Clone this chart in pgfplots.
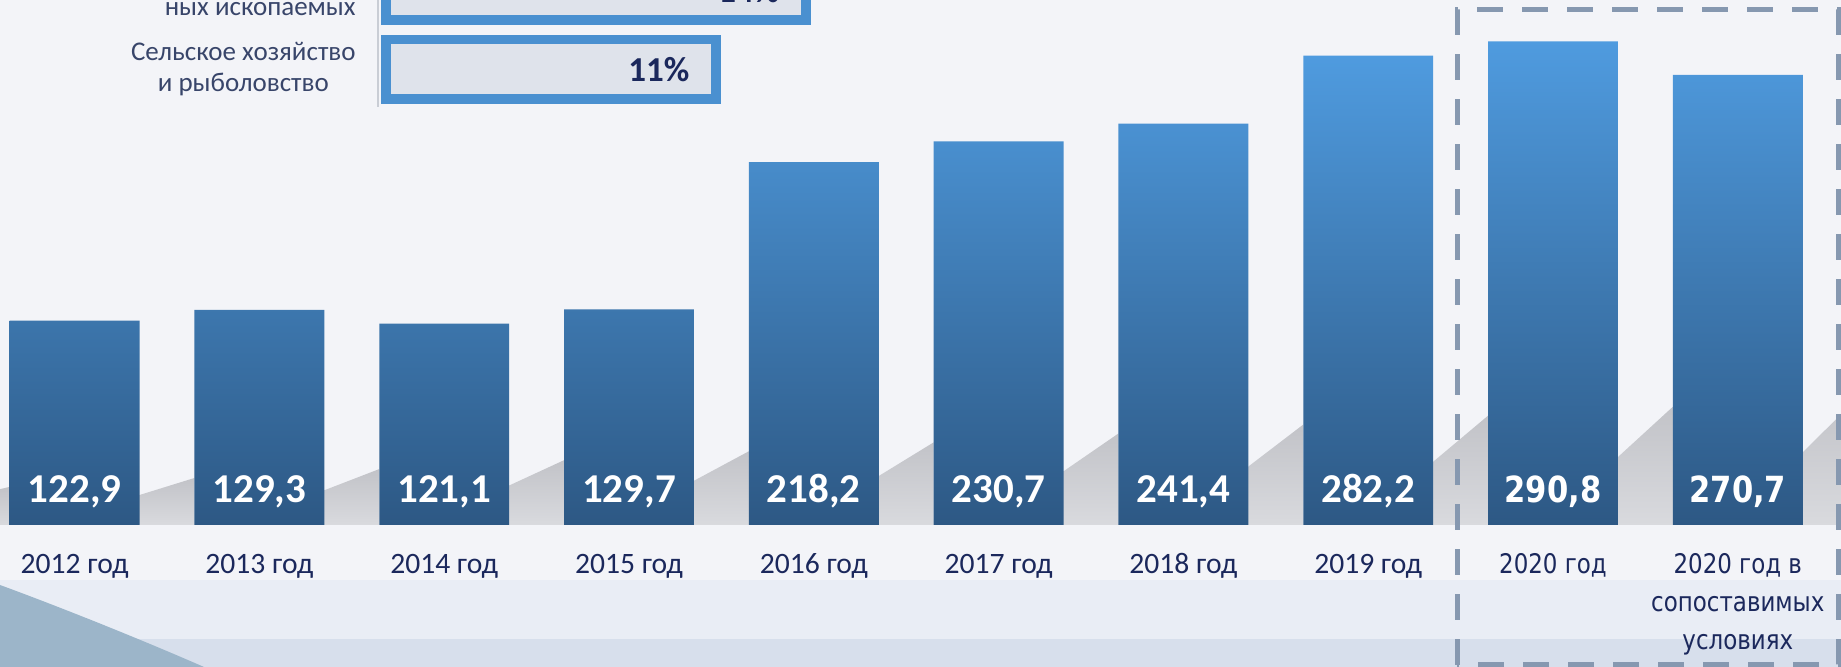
\documentclass[border=0pt]{standalone}
\usepackage{fontspec}
\setmainfont{Carlito}
\newfontfamily\dejavu{DejaVu Sans}
\usepackage{graphicx}
\usepackage{pgfplots}
\pgfplotsset{compat=1.18}
\definecolor{bgcol}{HTML}{F3F4F8}
\definecolor{band1}{HTML}{E9EDF5}
\definecolor{band2}{HTML}{D7DFEC}
\definecolor{swoosh}{HTML}{9CB5C9}
\definecolor{shadowgray}{HTML}{C2C3C8}
\definecolor{shadowlight}{HTML}{D9DADE}
\definecolor{bartop}{HTML}{4F9BDF}
\definecolor{barbot}{HTML}{2D5884}
\definecolor{navy}{HTML}{1B285C}
\definecolor{dashcol}{HTML}{8698B0}
\definecolor{insetblue}{HTML}{4A90D0}
\definecolor{insetfill}{HTML}{DFE3EB}
\definecolor{labcol}{HTML}{38456A}
\definecolor{axisgray}{HTML}{C9CDD5}

% labels of the last two categories are set in a wider sans
\newcommand{\vlab}[1]{{\dejavu\fontsize{13.5}{19}\selectfont\scalebox{0.85}[1]{\begin{tabular}[t]{@{}c@{}}#1\end{tabular}}}}

\begin{document}
\begin{tikzpicture}
\path[use as bounding box] (0,0) rectangle (920.5pt,333.5pt);
\begin{scope}
\clip (0,0) rectangle (920.5pt,333.5pt);
\fill[bgcol] (0,0) rectangle (920.5pt,333.5pt);
\fill[band1] (0,0) rectangle (920.5pt,43.5pt);
\fill[band2] (0,0) rectangle (920.5pt,14pt);
\fill[swoosh] (0,41pt) .. controls (30pt,30pt) and (70pt,14pt) .. (102pt,0) -- (0,0) -- cycle;
% grey ribbon seen in the gaps between the bars
\foreach \k in {-1,...,9}{
  \shade[top color=shadowgray, bottom color=shadowlight]
    ({69.8pt+92.4pt*\k},71pt) -- ({69.8pt+92.4pt*\k},{86pt+2.375pt*\k})
    -- ({97.2pt+92.4pt*\k},{94.5pt+4.45pt*\k}) -- ({97.2pt+92.4pt*\k},71pt) -- cycle;
}
\end{scope}

% main chart
\begin{axis}[
 at={(0pt,71pt)}, anchor=south west, scale only axis,
 width=920.5pt, height=262.5pt,
 xmin=-0.4037, xmax=9.5584, ymin=0, ymax=315.7,
 axis line style={draw=none}, ytick=\empty, major tick length=0pt,
 xtick={0,...,9},
 xticklabels={2012 год,2013 год,2014 год,2015 год,2016 год,2017 год,2018 год,2019 год,
   {\vlab{2020 год}},{\vlab{2020 год в\\сопоставимых\\условиях}}},
 xticklabel style={font=\fontsize{14.8}{18}\selectfont, text=navy, anchor=base, yshift=-24.5pt, inner sep=0pt},
 clip=false,
 /pgf/number format/fixed, /pgf/number format/fixed zerofill,
 /pgf/number format/precision=1, /pgf/number format/use comma,
 /pgf/number format/assume math mode=true
]
\addplot[ybar, bar width=0.703, draw=none, top color=bartop, bottom color=barbot,
  nodes near coords, point meta=y,
  visualization depends on={rawy \as \ry},
  every node near coord/.append style={anchor=base, inner sep=0pt, text=white,
    font=\fontsize{20.5}{24}\selectfont\bfseries, yshift={11pt-\ry*0.83148pt}}]
coordinates {(0,122.9) (1,129.3) (2,121.1) (3,129.7) (4,218.2) (5,230.7) (6,241.4) (7,282.2)};
\addplot[ybar, bar width=0.703, draw=none, top color=bartop, bottom color=barbot,
  nodes near coords={\scalebox{0.85}[1]{\pgfmathprintnumber{\pgfplotspointmeta}}}, point meta=y,
  visualization depends on={rawy \as \ry},
  every node near coord/.append style={anchor=base, inner sep=0pt, text=white,
    font=\dejavu\fontsize{18}{22}\selectfont\bfseries, yshift={11pt-\ry*0.83148pt}}]
coordinates {(8,290.8) (9,270.7)};
\end{axis}

\draw[dashcol, line width=2.5pt, dash pattern=on 13pt off 9.5pt] (728.5pt,1pt) rectangle (919pt,328.5pt);

% inset: shares by sector
\begin{axis}[
 at={(189pt,280pt)}, anchor=south west, scale only axis,
 width=304.05pt, height=81.95pt,
 xmin=-0.27, xmax=20, ymin=-0.4747, ymax=1.6,
 axis x line=none, axis y line*=left,
 y axis line style={draw=axisgray, line width=1pt, -},
 ytick={0,1}, major tick length=0pt,
 yticklabels={{Сельское хозяйство\\и рыболовство},{Добыча полез-\\ных ископаемых}},
 yticklabel style={anchor=east, align=center, inner sep=0pt, xshift=-11pt,
   font=\fontsize{13.5}{15.5}\selectfont, text=labcol},
 clip=false,
 /pgf/number format/assume math mode=true
]
\addplot[xbar, bar width=0.753, fill=insetfill, draw=insetblue, line width=4.75pt,
  nodes near coords={\pgfmathprintnumber{\pgfplotspointmeta}\%}, point meta=x,
  every node near coord/.append style={anchor=east, inner sep=0pt, xshift=-11pt,
    text=navy, font=\fontsize{17.5}{20}\selectfont\bfseries}]
coordinates {(11,0) (14,1)};
\end{axis}
\end{tikzpicture}
\end{document}
